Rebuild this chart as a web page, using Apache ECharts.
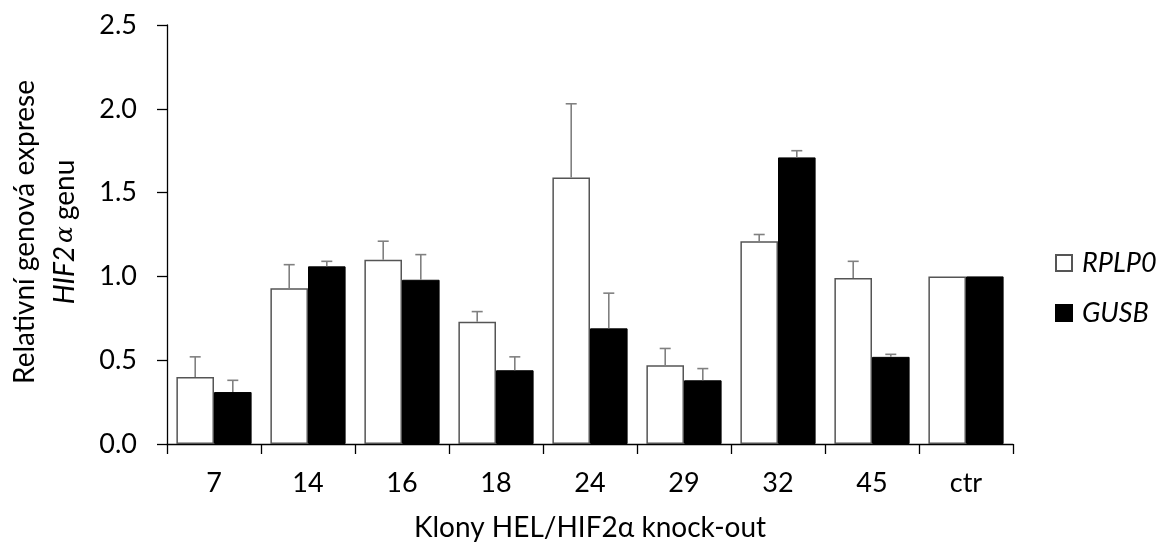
<!DOCTYPE html>
<html>
<head>
<meta charset="utf-8">
<script src="https://cdn.jsdelivr.net/npm/echarts@6/dist/echarts.min.js"></script>
<style>
  html, body { margin: 0; padding: 0; background: #fff; }
  #chart { width: 1158px; height: 547px; }
</style>
</head>
<body>
<div id="chart"></div>
<script>
// Clones and relative expression values (normalised to RPLP0 and GUSB)
const categories = ['7', '14', '16', '18', '24', '29', '32', '45', 'ctr'];
const rplp0 = [0.40, 0.93, 1.10, 0.73, 1.59, 0.47, 1.21, 0.99, 1.00];
const gusb = [0.31, 1.06, 0.98, 0.44, 0.69, 0.38, 1.71, 0.52, 1.00];
const rplp0Err = [0.12, 0.14, 0.11, 0.06, 0.44, 0.10, 0.04, 0.10, 0];
const gusbErr = [0.07, 0.03, 0.15, 0.08, 0.21, 0.07, 0.04, 0.015, 0];
const yTicks = [0, 0.5, 1.0, 1.5, 2.0, 2.5];

const FONT = 'Lato';
const CAT_GAP = 0.2;          // fraction of category left empty
const BAR_FRAC = (1 - CAT_GAP) / 2;

// Upward-only error whiskers, offset to sit on the left (-1) or right (+1) bar
function errorSeries(values, errs, side) {
  return {
    type: 'custom',
    z: 5,
    silent: true,
    data: values.map((v, i) => [i, v, v + errs[i]]),
    renderItem: function (params, api) {
      const idx = api.value(0);
      const lo = api.value(1);
      const hi = api.value(2);
      if (hi <= lo) return null;
      const bw = api.size([1, 0])[0] * BAR_FRAC;
      const base = api.coord([idx, lo]);
      const top = api.coord([idx, hi]);
      const x = base[0] + side * bw / 2;
      const cap = 5.5;
      const style = { stroke: '#808080', lineWidth: 1.6 };
      return {
        type: 'group',
        children: [
          { type: 'line', shape: { x1: x, y1: base[1], x2: x, y2: top[1] }, style: style },
          { type: 'line', shape: { x1: x - cap, y1: top[1], x2: x + cap, y2: top[1] }, style: style }
        ]
      };
    }
  };
}

const chart = echarts.init(document.getElementById('chart'), null, { renderer: 'canvas' });

chart.setOption({
  animation: false,
  backgroundColor: '#ffffff',
  textStyle: { fontFamily: FONT, color: '#000' },
  grid: { left: 167, right: 145, top: 25, bottom: 100, containLabel: false },
  legend: {
    data: ['RPLP0', 'GUSB'],
    orient: 'vertical',
    left: 1050,
    top: 243,
    icon: 'rect',
    itemWidth: 16,
    itemHeight: 16,
    itemGap: 20,
    textStyle: { fontFamily: FONT, fontSize: 27, fontStyle: 'italic', color: '#000', lineHeight: 30, padding: [0, 0, 0, 5] }
  },
  xAxis: {
    type: 'category',
    data: categories,
    name: 'Klony HEL/HIF2α knock-out',
    nameLocation: 'middle',
    nameGap: 70,
    nameTextStyle: { fontFamily: FONT, fontSize: 28, color: '#000' },
    axisLine: { lineStyle: { color: '#000', width: 1.3 } },
    axisTick: { show: true, length: 10, lineStyle: { color: '#000', width: 1.3 } },
    axisLabel: { fontFamily: FONT, fontSize: 27, color: '#000', margin: 26 }
  },
  yAxis: {
    type: 'value',
    min: yTicks[0],
    max: yTicks[yTicks.length - 1],
    interval: 0.5,
    axisLine: { show: true, lineStyle: { color: '#000', width: 1.3 } },
    axisTick: { show: true, length: 10, lineStyle: { color: '#000', width: 1.3 } },
    splitLine: { show: false },
    axisLabel: {
      fontFamily: FONT, fontSize: 27, color: '#000', margin: 30,
      formatter: v => v.toFixed(1)
    }
  },
  graphic: [{
    type: 'text',
    x: 45,
    y: 232,
    rotation: Math.PI / 2,
    style: {
      text: 'Relativní genová exprese\n{i|HIF2}{a|α}genu',
      fontFamily: FONT,
      fontSize: 28,
      fill: '#000',
      align: 'center',
      verticalAlign: 'middle',
      lineHeight: 40,
      rich: {
        i: { fontFamily: FONT, fontSize: 28, fontStyle: 'italic', lineHeight: 40 },
        a: { fontFamily: 'DejaVu Serif', fontSize: 25, fontStyle: 'italic', lineHeight: 40, padding: [0, 6, 0, 3] }
      }
    }
  }],
  series: [
    {
      name: 'RPLP0',
      type: 'bar',
      data: rplp0,
      barGap: '0%',
      barCategoryGap: (CAT_GAP * 100) + '%',
      itemStyle: { color: '#ffffff', borderColor: '#555555', borderWidth: 1.5 }
    },
    {
      name: 'GUSB',
      type: 'bar',
      data: gusb,
      barGap: '0%',
      barCategoryGap: (CAT_GAP * 100) + '%',
      itemStyle: { color: '#000000', borderColor: '#000000', borderWidth: 1 }
    },
    errorSeries(rplp0, rplp0Err, -1),
    errorSeries(gusb, gusbErr, 1)
  ]
});
</script>
</body>
</html>
